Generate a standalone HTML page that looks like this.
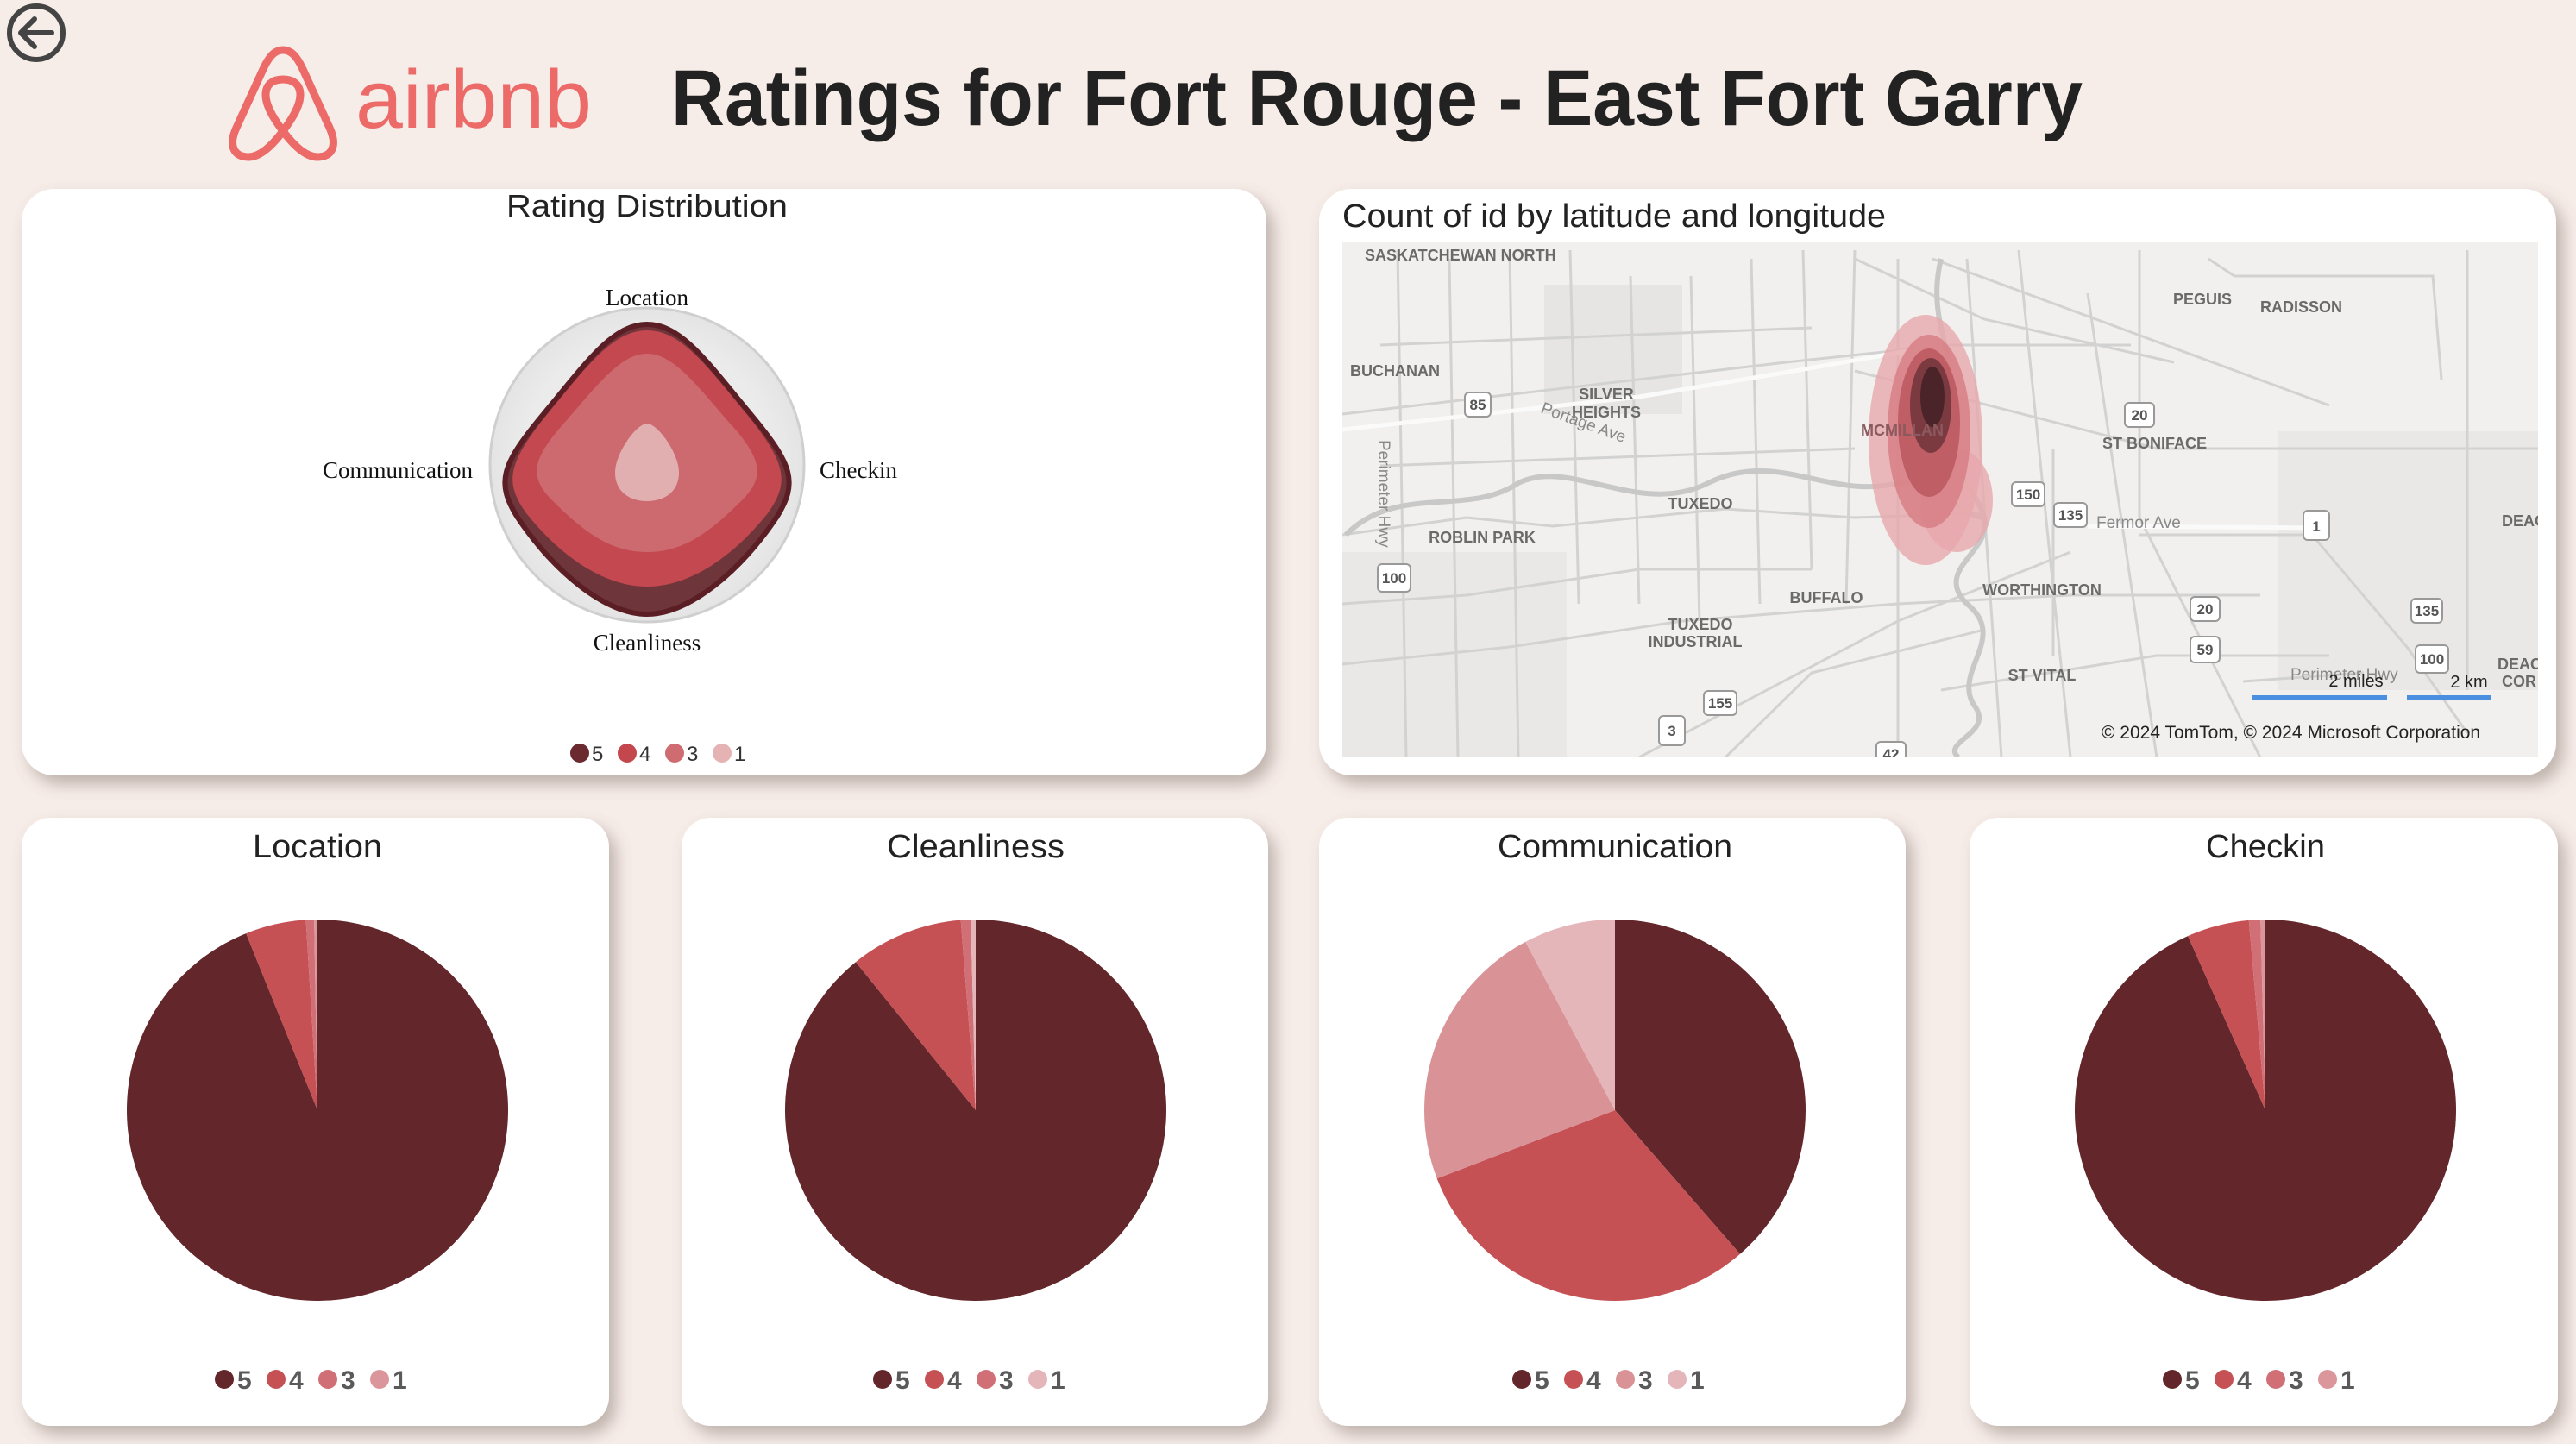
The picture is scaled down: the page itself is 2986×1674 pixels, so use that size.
<!DOCTYPE html>
<html><head><meta charset="utf-8">
<style>
html,body{margin:0;padding:0;background:#f6ece8;}
svg{display:block;}
</style></head>
<body>
<svg id="s" xmlns="http://www.w3.org/2000/svg" width="2986" height="1674" viewBox="0 0 2986 1674">
<defs>
<filter id="sh" x="-5%" y="-5%" width="115%" height="115%">
<feDropShadow dx="8" dy="10" stdDeviation="9" flood-color="#7a6a64" flood-opacity="0.45"/>
</filter>
<radialGradient id="rg" cx="0.5" cy="0.5" r="0.5">
<stop offset="0.8" stop-color="#ebebeb"/><stop offset="1" stop-color="#e4e4e4"/>
</radialGradient>
<clipPath id="mapclip"><rect x="1556" y="280" width="1386" height="598"/></clipPath>
</defs>
<rect width="2986" height="1674" fill="#f6ece8"/>

<!-- back arrow -->
<circle cx="42" cy="38" r="31" fill="none" stroke="#444" stroke-width="6"/>
<path d="M60 38 H26 M40 22 L24 38 L40 54" fill="none" stroke="#444" stroke-width="6" stroke-linecap="round" stroke-linejoin="round"/>

<!-- airbnb logo -->
<path d="M328 58 C318 58 312 66 306 78 L274 148 C264 170 272 182 288 182 C302 182 316 168 328 152 C340 168 354 182 368 182 C384 182 392 170 382 148 L350 78 C344 66 338 58 328 58 Z M328 152 C316 136 308 122 308 110 C308 98 316 92 328 92 C340 92 348 98 348 110 C348 122 340 136 328 152 Z" fill="none" stroke="#ec6a68" stroke-width="9" stroke-linejoin="round"/>
<text x="412" y="148" font-family="Liberation Sans, sans-serif" font-size="96" fill="#ec6a68" textLength="274" lengthAdjust="spacingAndGlyphs">airbnb</text>

<!-- title -->
<text x="778" y="145" font-family="Liberation Sans, sans-serif" font-weight="bold" font-size="92" fill="#222" textLength="1636" lengthAdjust="spacingAndGlyphs">Ratings for Fort Rouge - East Fort Garry</text>

<!-- cards -->
<g filter="url(#sh)" fill="#fff">
<rect x="25" y="219" width="1443" height="680" rx="38"/>
<rect x="1529" y="219" width="1434" height="680" rx="38"/>
<rect x="25" y="948" width="681" height="705" rx="34"/>
<rect x="790" y="948" width="680" height="705" rx="34"/>
<rect x="1529" y="948" width="680" height="705" rx="34"/>
<rect x="2283" y="948" width="682" height="705" rx="34"/>
</g>

<!-- radar -->
<text x="750" y="251" text-anchor="middle" font-family="Liberation Sans, sans-serif" font-size="36" fill="#222" textLength="326" lengthAdjust="spacingAndGlyphs">Rating Distribution</text>
<circle cx="750" cy="539" r="182" fill="url(#rg)" stroke="#cfcfcf" stroke-width="3"/>
<path d="M750 376 C790 376 820 420 870 480 C920 540 925 560 900 600 C860 660 800 712 750 712 C700 712 640 660 600 600 C575 560 580 540 630 480 C680 420 710 376 750 376 Z" fill="#6e353a" stroke="#5a1e24" stroke-width="6"/>
<path d="M750 383 C790 383 820 425 868 483 C912 538 915 560 890 595 C850 645 800 680 750 680 C700 680 650 645 610 595 C585 560 588 538 632 483 C680 425 710 383 750 383 Z" fill="#c4484f"/>
<path d="M750 410 C782 410 810 450 850 495 C885 535 885 555 860 580 C820 620 790 640 750 640 C710 640 680 620 640 580 C615 555 615 535 650 495 C690 450 718 410 750 410 Z" fill="#cd6a70"/>
<path d="M750 491 C762 491 787 525 787 548 C787 570 770 581 750 581 C730 581 713 570 713 548 C713 525 738 491 750 491 Z" fill="#e2afb1"/>
<g font-family="Liberation Serif, serif" font-size="27" fill="#111">
<text x="750" y="354" text-anchor="middle">Location</text>
<text x="548" y="554" text-anchor="end">Communication</text>
<text x="950" y="554">Checkin</text>
<text x="750" y="754" text-anchor="middle">Cleanliness</text>
</g>
<g font-family="Liberation Sans, sans-serif" font-size="24" fill="#333">
<circle cx="672" cy="873" r="11" fill="#6b2a30"/><text x="686" y="882">5</text>
<circle cx="727" cy="873" r="11" fill="#c4474e"/><text x="741" y="882">4</text>
<circle cx="782" cy="873" r="11" fill="#cf6c72"/><text x="796" y="882">3</text>
<circle cx="837" cy="873" r="11" fill="#e6b3b5"/><text x="851" y="882">1</text>
</g>

<!-- map -->
<text x="1556" y="263" font-family="Liberation Sans, sans-serif" font-size="38" fill="#222" textLength="630" lengthAdjust="spacingAndGlyphs">Count of id by latitude and longitude</text>
<g clip-path="url(#mapclip)">
<rect x="1556" y="280" width="1386" height="598" fill="#f1f0ee"/>
<rect x="2640" y="500" width="302" height="300" fill="#e9e8e6"/>
<rect x="1790" y="330" width="160" height="150" fill="#e6e5e3"/>
<rect x="1556" y="640" width="260" height="238" fill="#e9e8e6"/>
<g fill="none" stroke="#d2d2d2" stroke-width="3">
<path d="M1556 480 L2070 420 L2260 400 L2470 400"/>
<path d="M1556 620 L1700 600 L1800 610 L2000 590 L2150 600 L2300 595"/>
<path d="M1556 700 L1700 690 L1900 660 L2100 660"/>
<path d="M1556 770 L1750 750 L1950 720 L2200 700 L2400 690 L2620 690"/>
<path d="M1620 290 L1630 878"/>
<path d="M1680 300 L1690 878"/>
<path d="M1750 290 L1760 878"/>
<path d="M1820 290 L1830 700"/>
<path d="M1890 320 L1900 700"/>
<path d="M1960 320 L1970 720"/>
<path d="M2030 300 L2040 700"/>
<path d="M2090 290 L2100 660"/>
<path d="M2150 290 L2140 700"/>
<path d="M2200 300 L2200 878"/>
<path d="M2280 300 L2320 878"/>
<path d="M2340 290 L2400 878"/>
<path d="M2420 340 L2500 878"/>
<path d="M2480 290 L2480 600 L2620 878"/>
<path d="M2560 300 L2590 320 L2820 320 L2830 440"/>
<path d="M2150 430 L2500 520 L2942 520"/>
<path d="M2380 520 L2380 760"/>
<path d="M2480 620 L2700 620"/>
<path d="M1600 400 L2100 380"/>
<path d="M1600 540 L2150 520"/>
<path d="M2150 300 L2300 370 L2520 420"/>
<path d="M2240 300 L2700 470"/>
<path d="M2680 620 L2790 750 L2860 850"/>
<path d="M2860 290 L2860 800"/>
<path d="M2250 800 L2500 760 L2700 760"/>
<path d="M2600 790 L2740 780"/>
<path d="M1900 878 L2200 720 L2400 640"/>
<path d="M2000 878 L2100 780 L2300 730"/>
</g>
<g fill="none" stroke="#c8c8c8" stroke-width="6">
<path d="M2250 300 C2230 380 2280 420 2250 470 C2230 520 2290 560 2300 600 C2310 640 2240 660 2280 700 C2330 740 2260 780 2290 820 C2310 850 2250 860 2270 878"/>
<path d="M1560 620 C1620 560 1700 600 1760 560 C1820 530 1900 600 1980 560 C2060 520 2120 580 2200 560 C2250 550 2270 600 2300 600"/>
</g>
<g fill="none" stroke="#fafafa" stroke-width="5">
<path d="M1556 498 L1900 460 L2080 430 L2250 400"/>
<path d="M2420 610 L2700 612"/>
</g>
<!-- heat -->
<ellipse cx="2232" cy="510" rx="66" ry="145" fill="#e7a7ab" opacity="0.8"/>
<ellipse cx="2268" cy="580" rx="42" ry="60" fill="#e7a7ab" opacity="0.8"/>
<ellipse cx="2236" cy="500" rx="48" ry="112" fill="#d77f85" opacity="0.85"/>
<ellipse cx="2236" cy="490" rx="36" ry="86" fill="#bc5a62" opacity="0.9"/>
<ellipse cx="2238" cy="470" rx="24" ry="55" fill="#7a3a40"/>
<ellipse cx="2240" cy="460" rx="14" ry="35" fill="#4a2428"/>
<g font-family="Liberation Sans, sans-serif" font-size="18" font-weight="bold" fill="#6a6a6a">
<text x="1582" y="302">SASKATCHEWAN NORTH</text>
<text x="2519" y="353">PEGUIS</text>
<text x="2620" y="362">RADISSON</text>
<text x="1565" y="436">BUCHANAN</text>
<text x="1862" y="463" text-anchor="middle">SILVER</text>
<text x="1862" y="484" text-anchor="middle">HEIGHTS</text>
<text x="2437" y="520">ST BONIFACE</text>
<text x="1971" y="590" text-anchor="middle">TUXEDO</text>
<text x="1718" y="629" text-anchor="middle">ROBLIN PARK</text>
<text x="2117" y="699" text-anchor="middle">BUFFALO</text>
<text x="2367" y="690" text-anchor="middle">WORTHINGTON</text>
<text x="1971" y="730" text-anchor="middle">TUXEDO</text>
<text x="1965" y="750" text-anchor="middle">INDUSTRIAL</text>
<text x="2367" y="789" text-anchor="middle">ST VITAL</text>
<text x="2205" y="505" text-anchor="middle" fill="#8a5a5e">MCMILLAN</text>
<text x="2900" y="610">DEAC</text>
<text x="2895" y="776">DEAC</text>
<text x="2900" y="796">COR</text>
</g>
<g font-family="Liberation Sans, sans-serif" font-size="19" fill="#888">
<text x="1785" y="478" transform="rotate(20 1785 478)">Portage Ave</text>
<text x="2430" y="612">Fermor Ave</text>
<text x="1598" y="510" transform="rotate(90 1598 510)">Perimeter Hwy</text>
<text x="2655" y="788">Perimeter Hwy</text>
</g>
<g font-family="Liberation Sans, sans-serif" font-size="17" font-weight="bold" fill="#555" text-anchor="middle">
<g stroke="#999" stroke-width="2" fill="#fff">
<rect x="1698" y="455" width="30" height="28" rx="5"/>
<rect x="2463" y="467" width="34" height="28" rx="5"/>
<rect x="2332" y="559" width="38" height="28" rx="5"/>
<rect x="2381" y="583" width="38" height="28" rx="5"/>
<rect x="2670" y="592" width="30" height="34" rx="5"/>
<rect x="1597" y="654" width="38" height="32" rx="5"/>
<rect x="2539" y="692" width="34" height="28" rx="5"/>
<rect x="2539" y="738" width="34" height="30" rx="5"/>
<rect x="2795" y="694" width="36" height="28" rx="5"/>
<rect x="2800" y="748" width="38" height="32" rx="5"/>
<rect x="1975" y="801" width="38" height="28" rx="5"/>
<rect x="1923" y="830" width="30" height="34" rx="5"/>
<rect x="2175" y="860" width="34" height="28" rx="5"/>
</g>
<text x="1713" y="475">85</text>
<text x="2480" y="487">20</text>
<text x="2351" y="579">150</text>
<text x="2400" y="603">135</text>
<text x="2685" y="616">1</text>
<text x="1616" y="676">100</text>
<text x="2556" y="712">20</text>
<text x="2556" y="759">59</text>
<text x="2813" y="714">135</text>
<text x="2819" y="770">100</text>
<text x="1994" y="821">155</text>
<text x="1938" y="853">3</text>
<text x="2192" y="880">42</text>
</g>
<g font-family="Liberation Sans, sans-serif" font-size="20" fill="#222">
<text x="2731" y="796" text-anchor="middle">2 miles</text>
<text x="2862" y="797" text-anchor="middle">2 km</text>
<rect x="2611" y="806" width="156" height="6" fill="#4a8fe0"/>
<rect x="2790" y="806" width="98" height="6" fill="#4a8fe0"/>
<text x="2436" y="856" font-size="21">© 2024 TomTom, © 2024 Microsoft Corporation</text>
</g>
</g>

<g id="pies"></g>
</svg>
<script>
var NS="http://www.w3.org/2000/svg";
var g=document.getElementById("pies");
function el(t,a,txt){var e=document.createElementNS(NS,t);for(var k in a)e.setAttribute(k,a[k]);if(txt)e.textContent=txt;g.appendChild(e);return e;}
var pies=[
 {t:"Location",cx:368,cy:1287,tw:150,a:[338,356.5,359,360],lc:["#63262a","#c65155","#d07076","#da969a"]},
 {t:"Cleanliness",cx:1131,cy:1287,tw:206,a:[321,355.5,358.5,360],lc:["#63262a","#c65155","#d07076","#e5b6b9"]},
 {t:"Communication",cx:1872,cy:1287,tw:272,a:[139,249,332,360],lc:["#63262a","#c65155","#d99397","#e5b6b9"]},
 {t:"Checkin",cx:2626,cy:1287,tw:138,a:[336,355,358.5,360],lc:["#63262a","#c65155","#d07076","#da969a"]}
];
var R=221;
pies.forEach(function(p){
 var prev=0;
 p.a.forEach(function(end,i){
  var a0=prev*Math.PI/180,a1=end*Math.PI/180;
  var x0=p.cx+R*Math.sin(a0),y0=p.cy-R*Math.cos(a0),x1=p.cx+R*Math.sin(a1),y1=p.cy-R*Math.cos(a1);
  var large=(end-prev)>180?1:0;
  el("path",{d:"M"+p.cx+" "+p.cy+" L"+x0+" "+y0+" A"+R+" "+R+" 0 "+large+" 1 "+x1+" "+y1+" Z",fill:p.lc[i]});
  prev=end;
 });
 el("text",{x:p.cx,y:994,"text-anchor":"middle","font-family":"Liberation Sans, sans-serif","font-size":"38",fill:"#222",textLength:p.tw,lengthAdjust:"spacingAndGlyphs"},p.t);
 var labels=["5","4","3","1"];
 var x=p.cx-108;
 for(var i=0;i<4;i++){
  el("circle",{cx:x,cy:1599,r:11,fill:p.lc[i]});
  el("text",{x:x+15,y:1610,"font-family":"Liberation Sans, sans-serif","font-size":"30","font-weight":"bold",fill:"#5a5a5a"},labels[i]);
  x+=60;
 }
});
</script>
</body></html>
